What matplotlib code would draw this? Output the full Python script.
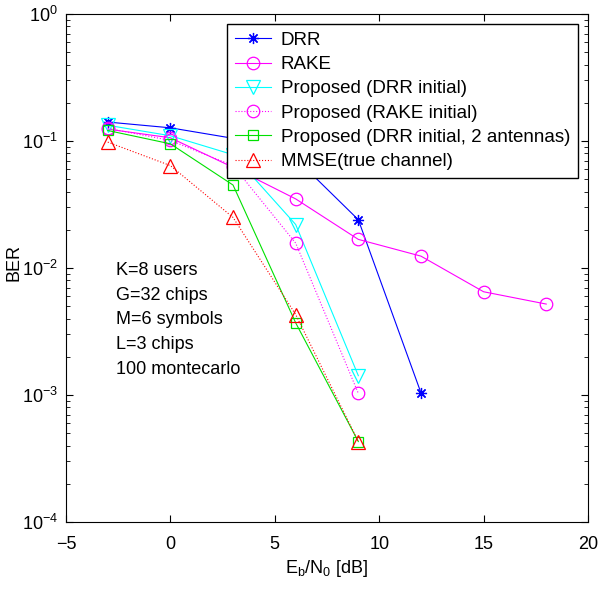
import matplotlib
matplotlib.use("Agg")
import matplotlib.pyplot as plt
import numpy as np

plt.rcParams['font.family'] = ['Liberation Sans', 'DejaVu Sans']
plt.rcParams['mathtext.fontset'] = 'custom'
plt.rcParams['mathtext.rm'] = 'Liberation Sans'
plt.rcParams['mathtext.it'] = 'Liberation Sans:italic'
plt.rcParams['font.size'] = 13

# Eb/N0 punti (dB)
snr_drr = [-3, 0, 3, 6, 9, 12]
ber_drr = [0.141, 0.127, 0.105, 0.073, 0.024, 0.00104]

snr_rake = [-3, 0, 3, 6, 9, 12, 15, 18]
ber_rake = [0.124, 0.106, 0.062, 0.035, 0.0168, 0.0124, 0.0065, 0.0052]

snr_prop = [-3, 0, 3, 6, 9]
ber_prop_drr = [0.133, 0.110, 0.078, 0.022, 0.00142]
ber_prop_rake = [0.126, 0.101, 0.064, 0.0157, 0.00103]
ber_prop_2ant = [0.121, 0.095, 0.045, 0.0037, 0.00043]
ber_mmse = [0.098, 0.064, 0.025, 0.0043, 0.00043]

testo = "K=8 users\nG=32 chips\nM=6 symbols\nL=3 chips\n100 montecarlo"

fig = plt.figure(figsize=(5.99, 5.89), dpi=100)
ax = fig.add_axes([66/599, 1 - 522/589, (588-66)/599, (522-14)/589])

ax.semilogy(snr_drr, ber_drr, '-', marker=(8, 2, 0), color='blue', lw=0.8, ms=8, mew=0.9,
            label='DRR')
ax.semilogy(snr_rake, ber_rake, '-o', color='magenta', lw=0.8, ms=9, mfc='none', mew=0.9,
            label='RAKE')
ax.semilogy(snr_prop, ber_prop_drr, '-v', color='cyan', lw=0.8, ms=9.5, mfc='none', mew=0.9,
            label='Proposed (DRR initial)')
ax.semilogy(snr_prop, ber_prop_rake, ':o', color='magenta', lw=0.8, ms=9, mfc='none', mew=0.9,
            label='Proposed (RAKE initial)')
ax.semilogy(snr_prop, ber_prop_2ant, '-s', color='#00e000', lw=0.8, ms=7, mfc='none', mew=0.9,
            label='Proposed (DRR initial, 2 antennas)')
ax.semilogy(snr_prop, ber_mmse, ':^', color='red', lw=0.8, ms=9.5, mfc='none', mew=0.9,
            label='MMSE(true channel)')

ax.set_xlim(-5, 20)
ax.set_ylim(1e-4, 1)
ax.set_xticks([-5, 0, 5, 10, 15, 20])
ax.tick_params(which='both', direction='in', top=True, right=True)
ax.tick_params(axis='x', which='major', length=5, pad=10)
ax.tick_params(axis='y', which='major', length=5, pad=6)
ax.tick_params(which='minor', length=3)
ax.set_xlabel(r'E$_\mathrm{b}$/N$_\mathrm{0}$ [dB]', labelpad=4)
ax.set_ylabel('BER')
ax.yaxis.set_label_coords(-0.083, 0.51)

ax.text(-2.6, 0.0112, testo, va='top', ha='left', linespacing=1.6)

leg = ax.legend(loc='upper right', fancybox=False, edgecolor='black',
                framealpha=1, labelspacing=0.38, handlelength=1.9,
                borderaxespad=0.55, borderpad=0.4, handletextpad=0.55,
                prop={'size': 13.5})
leg.get_frame().set_linewidth(1)

fig.savefig('out.png', dpi=100)
